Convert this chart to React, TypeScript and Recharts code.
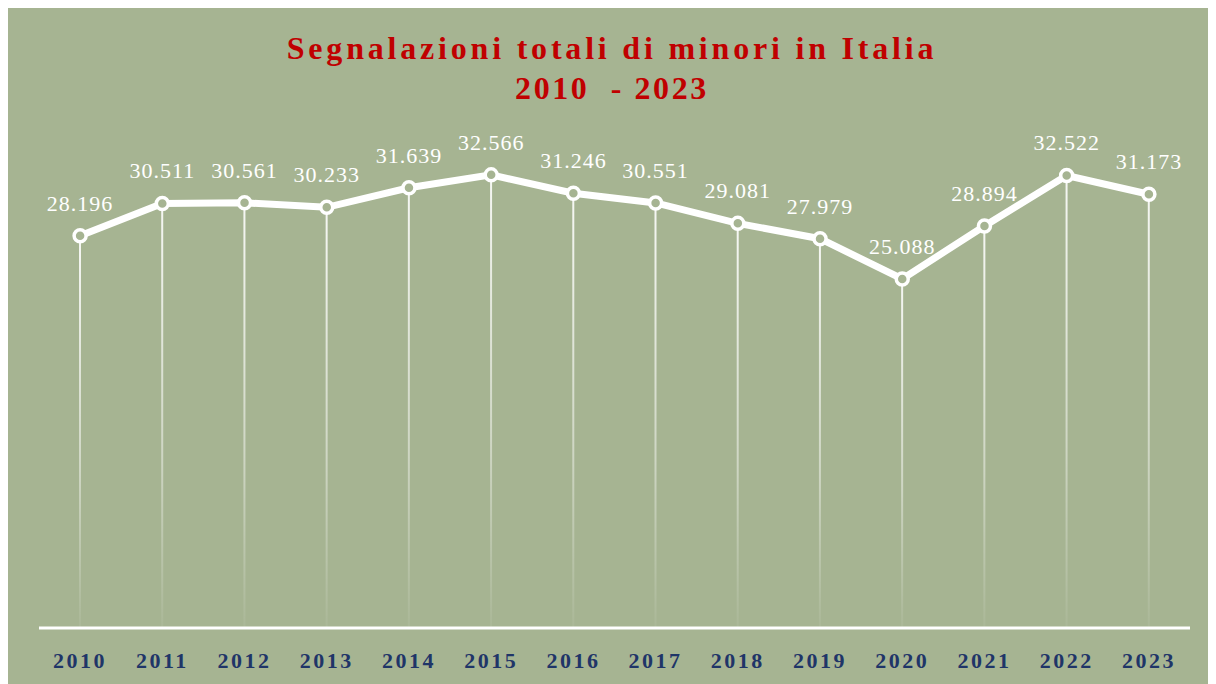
import React from "react";
import { Bar, ComposedChart, LabelList, Line, XAxis, YAxis } from "recharts";

const years = ["2010", "2011", "2012", "2013", "2014", "2015", "2016", "2017", "2018", "2019", "2020", "2021", "2022", "2023"];
const reports = [28196, 30511, 30561, 30233, 31639, 32566, 31246, 30551, 29081, 27979, 25088, 28894, 32522, 31173];

const BG = "#a6b492";
const serif = "'Liberation Serif', 'DejaVu Serif', serif";

const data = years.map((year, i) => ({ year, value: reports[i] }));

// 28196 -> "28.196"
const fmt = (v: number) => String(v).replace(/\B(?=(\d{3})+(?!\d))/g, ".");

export default function App() {
  return (
    <div style={{ position: "relative", width: 1208, height: 676, background: BG, overflow: "hidden" }}>
      <div
        style={{
          position: "absolute",
          top: 20,
          width: "100%",
          textAlign: "center",
          fontFamily: serif,
          fontWeight: "bold",
          color: "#c00000",
          fontSize: 32,
          lineHeight: "40px",
        }}
      >
        <div style={{ letterSpacing: 3.8 }}>Segnalazioni totali di minori in Italia</div>
        <div style={{ letterSpacing: 2.6, whiteSpace: "pre" }}>2010  - 2023</div>
      </div>
      <ComposedChart
        width={1208}
        height={676}
        data={data}
        margin={{ top: 133, right: 26, bottom: 16, left: 31 }}
      >
        <defs>
          <linearGradient id="drop" x1="0" y1="0" x2="0" y2="1">
            <stop offset="0%" stopColor="#ffffff" stopOpacity={0.9} />
            <stop offset="60%" stopColor="#ffffff" stopOpacity={0.45} />
            <stop offset="100%" stopColor="#ffffff" stopOpacity={0.05} />
          </linearGradient>
        </defs>
        <XAxis
          dataKey="year"
          height={40}
          axisLine={{ stroke: "#ffffff", strokeWidth: 3 }}
          tickLine={false}
          tick={{ fill: "#1f3568", fontFamily: serif, fontWeight: "bold", fontSize: 22, letterSpacing: 2.5 }}
          tickMargin={18}
        />
        <YAxis hide domain={[0, 35000]} />
        <Bar dataKey="value" barSize={2} fill="url(#drop)" isAnimationActive={false} />
        <Line
          dataKey="value"
          stroke="#ffffff"
          strokeWidth={7}
          dot={{ r: 6, stroke: "#ffffff", strokeWidth: 3.5, fill: BG }}
          activeDot={false}
          isAnimationActive={false}
        >
          <LabelList
            dataKey="value"
            position="top"
            offset={25}
            formatter={(v: any) => fmt(Number(v))}
            style={{ fill: "#ffffff", fontFamily: serif, fontSize: 22, letterSpacing: 1 }}
          />
        </Line>
      </ComposedChart>
    </div>
  );
}
